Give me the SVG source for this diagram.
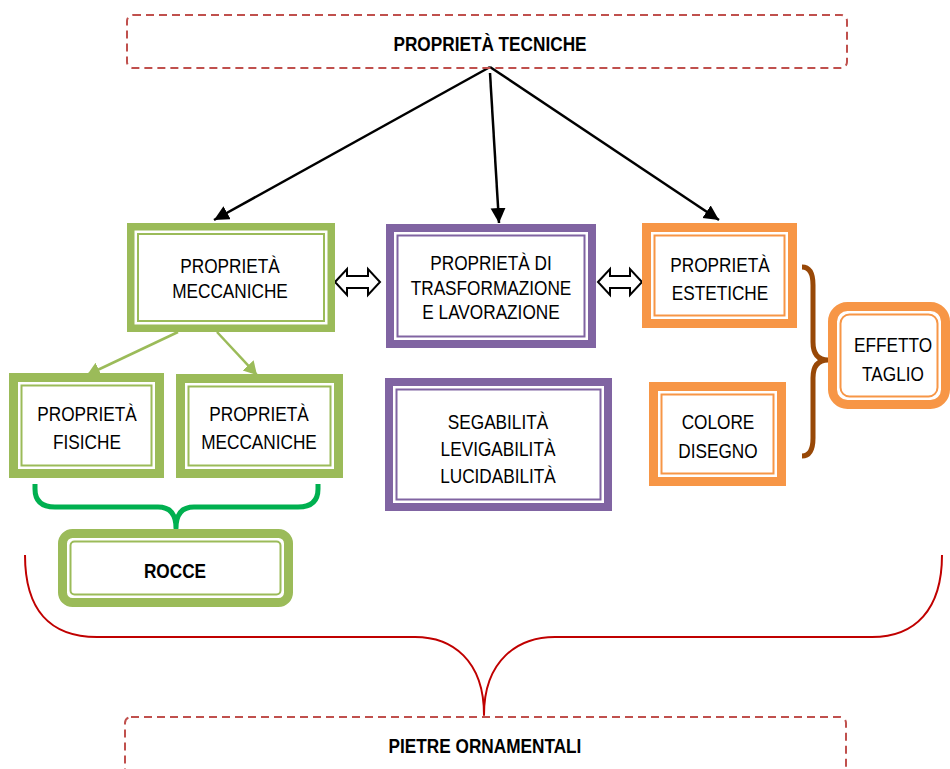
<svg xmlns="http://www.w3.org/2000/svg" width="950" height="769" viewBox="0 0 950 769">
  <defs>
    <marker id="head-black" markerUnits="userSpaceOnUse" markerWidth="16" markerHeight="16" refX="15" refY="7.5" orient="auto">
      <path d="M0,0 L15,7.5 L0,15 Z" fill="#000"/>
    </marker>
    <marker id="head-green" markerUnits="userSpaceOnUse" markerWidth="14" markerHeight="16" refX="13" refY="7.5" orient="auto">
      <path d="M0,0 L13,7.5 L0,15 Z" fill="#9BBB59"/>
    </marker>
  </defs>
  <style>
    text { font-family: "Liberation Sans", Arial, sans-serif; font-size: 21px; fill: #000; text-anchor: middle; }
    .bold { font-weight: bold; }
    .dash { fill: none; stroke: #C0504D; stroke-width: 2; stroke-dasharray: 8 5; }
    .g-outer { fill: #fff; stroke: #9BBB59; }
    .g-inner { fill: none; stroke: #9BBB59; stroke-width: 2; }
    .p-outer { fill: #fff; stroke: #8064A2; }
    .p-inner { fill: none; stroke: #8064A2; stroke-width: 2; }
    .o-outer { fill: #fff; stroke: #F79646; }
    .o-inner { fill: none; stroke: #F79646; stroke-width: 2; }
    .arrow { fill: none; stroke: #000; stroke-width: 2.5; marker-end: url(#head-black); }
    .garrow { fill: none; stroke: #9BBB59; stroke-width: 2.5; marker-end: url(#head-green); }
    .dbl { fill: #fff; stroke: #000; stroke-width: 2; stroke-linejoin: miter; }
    .brace { fill: none; stroke-linecap: butt; stroke-linejoin: round; }
  </style>

  <!-- connectors: arrows and braces -->
  <g id="connectors">
    <line class="arrow" x1="490" y1="67" x2="214" y2="220"/>
    <line class="arrow" x1="490" y1="73" x2="499" y2="223"/>
    <line class="arrow" x1="490" y1="67" x2="719" y2="220"/>
    <line class="garrow" x1="178" y1="332" x2="87" y2="375"/>
    <line class="garrow" x1="217" y1="332" x2="257" y2="375"/>
    <!-- double arrows between the three property groups -->
    <path class="dbl" d="M335,282 L347,269 L347,276 L368,276 L368,269 L380,282 L368,295 L368,288 L347,288 L347,295 Z"/>
    <path class="dbl" d="M598,282 L610,269 L610,276 L630,276 L630,269 L642,282 L630,295 L630,288 L610,288 L610,295 Z"/>
    <!-- green brace: rock properties -> ROCCE -->
    <path class="brace" stroke="#00B050" stroke-width="5" d="M35,484 L35,489 Q35,507 55,507 L158,507 Q176,507 176,528 Q176,507 194,507 L298,507 Q318,507 318,489 L318,484"/>
    <!-- brown brace: aesthetic properties -> EFFETTO TAGLIO -->
    <path class="brace" stroke="#984807" stroke-width="5" d="M802,267 Q813,267 813,285 L813,342 Q813,360 828,360 Q813,360 813,378 L813,438 Q813,456 802,456"/>
    <!-- red brace: everything -> PIETRE ORNAMENTALI -->
    <path class="brace" stroke="#C00000" stroke-width="2" d="M25,555 C25,610 50,637 97,637 L415,637 C452,637 484,660 484,715 C484,660 518,637 555,637 L872,637 C915,637 942,610 942,555"/>
  </g>

  <!-- labels use a horizontally condensed sans (narrow face) -->
  <g id="proprieta-tecniche">
    <rect class="dash" x="127" y="15" width="720" height="53" rx="6"/>
    <text class="bold" transform="translate(490,51) scale(0.82,1)">PROPRIETÀ TECNICHE</text>
  </g>

  <g id="proprieta-meccaniche">
    <rect class="g-outer" x="130.75" y="226.75" width="200.5" height="101.5" stroke-width="7.5"/>
    <rect class="g-inner" x="138" y="234" width="186" height="87"/>
    <text transform="translate(230,273) scale(0.82,1)">PROPRIETÀ</text>
    <text transform="translate(230,298) scale(0.82,1)">MECCANICHE</text>
  </g>

  <g id="proprieta-trasformazione">
    <rect class="p-outer" x="390" y="228" width="202" height="116" stroke-width="8"/>
    <rect class="p-inner" x="397.5" y="235.5" width="187" height="101"/>
    <text transform="translate(491,270) scale(0.82,1)">PROPRIETÀ DI</text>
    <text transform="translate(491,294.5) scale(0.82,1)">TRASFORMAZIONE</text>
    <text transform="translate(491,319) scale(0.82,1)">E LAVORAZIONE</text>
  </g>

  <g id="proprieta-estetiche">
    <rect class="o-outer" x="646.5" y="227.5" width="146" height="96" stroke-width="9"/>
    <rect class="o-inner" x="654.5" y="235.5" width="130" height="80"/>
    <text transform="translate(720,272) scale(0.82,1)">PROPRIETÀ</text>
    <text transform="translate(720,300) scale(0.82,1)">ESTETICHE</text>
  </g>

  <g id="proprieta-fisiche">
    <rect class="g-outer" x="13.5" y="377.5" width="146" height="96" stroke-width="9"/>
    <rect class="g-inner" x="21.5" y="385.5" width="130" height="80"/>
    <text transform="translate(87,421) scale(0.82,1)">PROPRIETÀ</text>
    <text transform="translate(87,449) scale(0.82,1)">FISICHE</text>
  </g>

  <g id="proprieta-meccaniche-rocce">
    <rect class="g-outer" x="180.5" y="378.5" width="158" height="95" stroke-width="9"/>
    <rect class="g-inner" x="188.5" y="386.5" width="142" height="79"/>
    <text transform="translate(259,421) scale(0.82,1)">PROPRIETÀ</text>
    <text transform="translate(259,449) scale(0.82,1)">MECCANICHE</text>
  </g>

  <g id="lavorabilita">
    <rect class="p-outer" x="389" y="382" width="219" height="125" stroke-width="8"/>
    <rect class="p-inner" x="396.5" y="389.5" width="204" height="110"/>
    <text transform="translate(498,429) scale(0.82,1)">SEGABILITÀ</text>
    <text transform="translate(498,456) scale(0.82,1)">LEVIGABILITÀ</text>
    <text transform="translate(498,483) scale(0.82,1)">LUCIDABILITÀ</text>
  </g>

  <g id="colore-disegno">
    <rect class="o-outer" x="653.5" y="386.5" width="128" height="95" stroke-width="9"/>
    <rect class="o-inner" x="661.5" y="394.5" width="112" height="79"/>
    <text transform="translate(718,429) scale(0.82,1)">COLORE</text>
    <text transform="translate(718,458) scale(0.82,1)">DISEGNO</text>
  </g>

  <g id="effetto-taglio">
    <rect class="o-outer" x="832.5" y="306.5" width="113" height="98" rx="15" stroke-width="9"/>
    <rect class="o-inner" x="840.5" y="314.5" width="97" height="82" rx="9"/>
    <text transform="translate(893,352) scale(0.82,1)">EFFETTO</text>
    <text transform="translate(893,381) scale(0.82,1)">TAGLIO</text>
  </g>

  <g id="rocce">
    <rect class="g-outer" x="62.5" y="533.5" width="226" height="69" rx="10" stroke-width="9"/>
    <rect class="g-inner" x="70.5" y="541.5" width="210" height="53" rx="4"/>
    <text class="bold" transform="translate(175,578) scale(0.82,1)">ROCCE</text>
  </g>

  <g id="pietre-ornamentali">
    <rect class="dash" x="125" y="717" width="721" height="70" rx="6"/>
    <text class="bold" transform="translate(485,753) scale(0.82,1)">PIETRE ORNAMENTALI</text>
  </g>
</svg>
